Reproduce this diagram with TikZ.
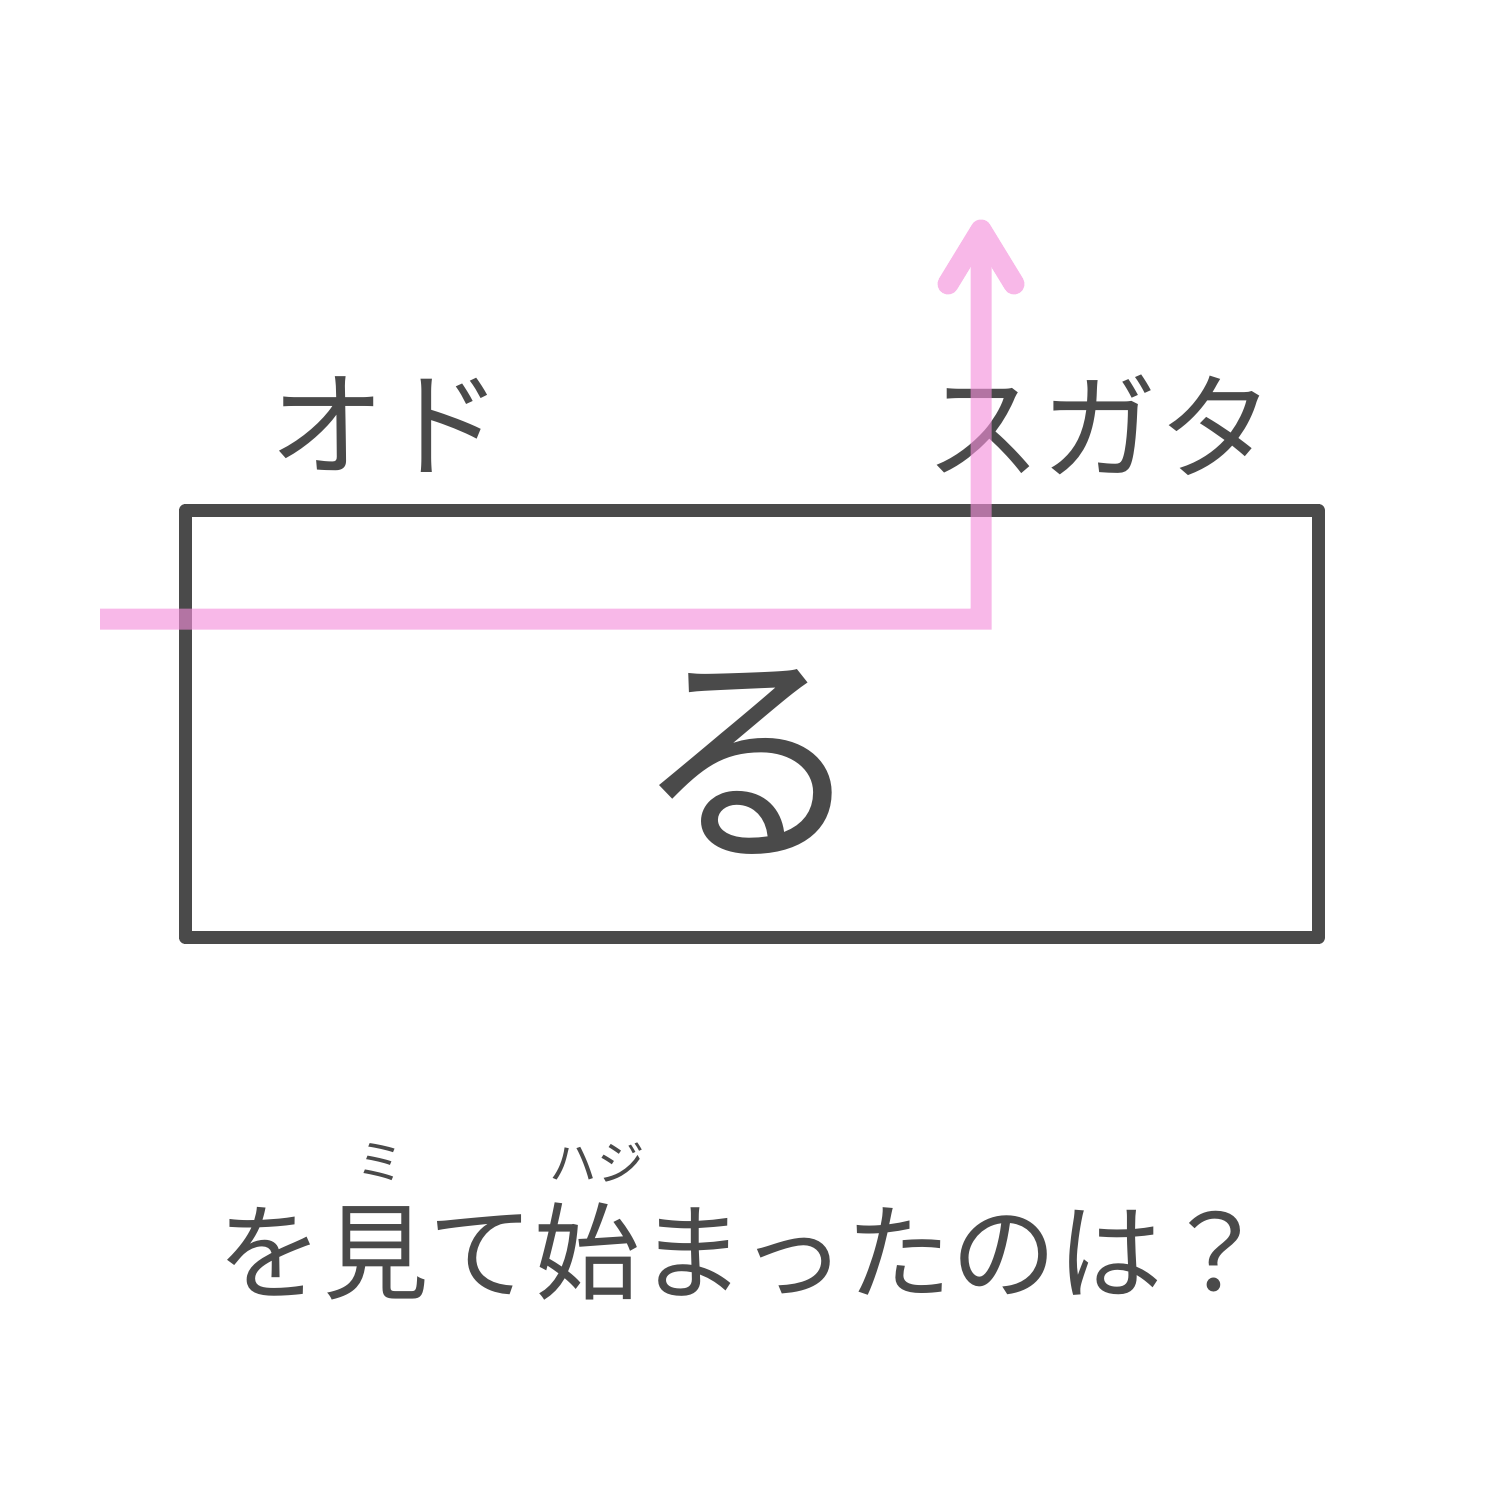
\documentclass[tikz,border=0pt]{standalone}
\usepackage{fontspec}
\newfontfamily\jpfont{Noto Sans CJK JP}
\usetikzlibrary{positioning}
\definecolor{boxgray}{HTML}{4A4A4A}
\definecolor{routepink}{RGB}{245,142,219}
\tikzset{
  wordbox/.style={draw=boxgray, line width=3.8pt, line join=round, inner sep=0pt,
    minimum width=11.32cm, minimum height=4.27cm},
  kana/.style={text=boxgray, inner sep=0pt, font=\jpfont\fontsize{33pt}{33pt}\selectfont},
  bigkana/.style={kana, font=\jpfont\fontsize{66pt}{66pt}\selectfont},
  question/.style={kana, font=\jpfont\fontsize{30pt}{30pt}\selectfont},
  ruby/.style={kana, font=\jpfont\fontsize{13.5pt}{13.5pt}\selectfont},
  route/.style={draw=routepink, line width=5.97pt}
}
\begin{document}
\begin{tikzpicture}[x=0.01cm, y=-0.01cm]
\useasboundingbox[fill=white] (0,0) rectangle (1500,1500);
% box and its letter
\node[wordbox] (box) at (752,724) {};
\node[bigkana] (ru) at (750,762) {る};
% words above the box
\node[kana] (odo) at (386,425) {オド};
\node[kana] (sugata) at (1100,425) {スガタ};
% pink route through the box
\coordinate (start) at (100,619);
\coordinate (turn) at (981,619);
\coordinate (tip) at (981,230);
\coordinate (armL) at (948,284);
\coordinate (armR) at (1014,284);
\begin{scope}[transparency group, opacity=0.62]
\draw[route] (start) -- (turn) -- (tip);
\draw[route, line cap=round, line join=round] (armL) -- (tip) -- (armR);
\end{scope}
% question with readings
\node[question] (ask) at (743,1252) {を見て始まったのは？};
\node[ruby] (mi) at (380,1162) {ミ};
\node[ruby] (haji) at (597,1162) {ハジ};
\end{tikzpicture}
\end{document}
